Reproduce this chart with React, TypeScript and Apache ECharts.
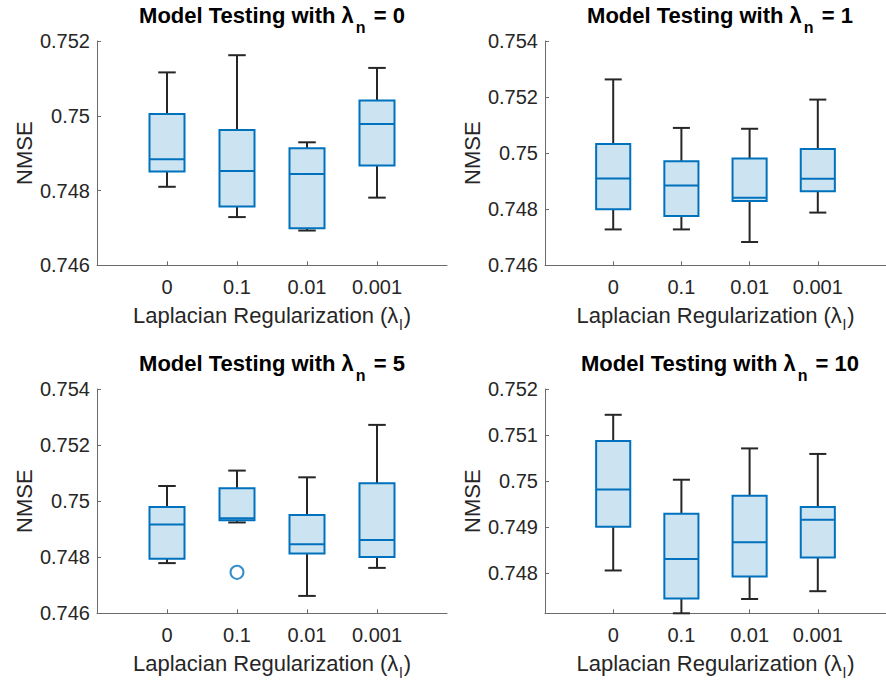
import React, { useEffect, useRef } from "react";
import * as echarts from "echarts";

// Category labels (Laplacian regularization λ_l)
const categories = ["0", "0.1", "0.01", "0.001"];
const categoryPositions = [1, 2, 3, 4];

// Box statistics per category: [lower whisker, Q1, median, Q3, upper whisker]
const boxesLambdaN0 = [
  [0.7481, 0.74851, 0.74884, 0.75005, 0.75116],
  [0.74729, 0.74757, 0.74852, 0.74962, 0.75162],
  [0.74693, 0.74699, 0.74844, 0.74913, 0.74929],
  [0.74781, 0.74867, 0.74978, 0.75041, 0.75128],
];
const boxesLambdaN1 = [
  [0.74728, 0.748, 0.7491, 0.75033, 0.75263],
  [0.74728, 0.74776, 0.74885, 0.74971, 0.7509],
  [0.74683, 0.74829, 0.74841, 0.74981, 0.75087],
  [0.74788, 0.74864, 0.74909, 0.75015, 0.75191],
];
const boxesLambdaN5 = [
  [0.74779, 0.74795, 0.74917, 0.74979, 0.75054],
  [0.74924, 0.74932, 0.74939, 0.75046, 0.75109],
  [0.74662, 0.74813, 0.74846, 0.74951, 0.75085],
  [0.74762, 0.74801, 0.74861, 0.75064, 0.75272],
];
const boxesLambdaN10 = [
  [0.74806, 0.74901, 0.74982, 0.75087, 0.75144],
  [0.74713, 0.74745, 0.74831, 0.74929, 0.75003],
  [0.74744, 0.74793, 0.74867, 0.74968, 0.75071],
  [0.74761, 0.74834, 0.74916, 0.74944, 0.75059],
];
// Outliers: [category position, value]
const outliersLambdaN5 = [[2, 0.74746]];

// Y-axis tick values
const yTicksA = [0.746, 0.748, 0.75, 0.752];
const yTicksB = [0.746, 0.748, 0.75, 0.752, 0.754];
const yTicksD = [0.748, 0.749, 0.75, 0.751, 0.752];

const panels = [
  { lambdaN: "0", boxes: boxesLambdaN0, outliers: [] as number[][], yMin: 0.746, yMax: 0.752, yTicks: yTicksA },
  { lambdaN: "1", boxes: boxesLambdaN1, outliers: [] as number[][], yMin: 0.746, yMax: 0.754, yTicks: yTicksB },
  { lambdaN: "5", boxes: boxesLambdaN5, outliers: outliersLambdaN5, yMin: 0.746, yMax: 0.754, yTicks: yTicksB },
  { lambdaN: "10", boxes: boxesLambdaN10, outliers: [] as number[][], yMin: 0.74713, yMax: 0.752, yTicks: yTicksD },
];

const FONT = "'Liberation Sans', Arial, Helvetica, sans-serif";
const TEXT = "#262626";
const AXIS = "#6b6b6b";
const BLUE = "#0072BD";
const FILL = "#cce3f2";
const WHISKER = "#262626";

const gridPos = [
  { left: 97, top: 41 },
  { left: 545, top: 41 },
  { left: 97, top: 389 },
  { left: 545, top: 389 },
];
const GW = 350;
const GH = 224.3;

export default function App() {
  const ref = useRef<HTMLDivElement>(null);
  useEffect(() => {
    document.body.style.margin = "0";
    const chart = echarts.init(ref.current!, null, { renderer: "svg" });
    const grid: any[] = [];
    const xAxis: any[] = [];
    const yAxis: any[] = [];
    const series: any[] = [];
    const graphic: any[] = [];

    panels.forEach((p, i) => {
      const g = gridPos[i];
      grid.push({ left: g.left, top: g.top, width: GW, height: GH, containLabel: false });
      xAxis.push({
        gridIndex: i,
        type: "value",
        min: 0,
        max: 5,
        axisLine: { show: true, lineStyle: { color: AXIS, width: 1 } },
        axisTick: { show: true, inside: true, length: 4, customValues: categoryPositions, lineStyle: { color: AXIS } },
        axisLabel: {
          show: true,
          customValues: categoryPositions,
          formatter: (v: number) => categories[Math.round(v) - 1] ?? "",
          color: TEXT,
          fontSize: 20,
          fontFamily: FONT,
          margin: 12,
        },
        splitLine: { show: false },
        name: "{t|Laplacian Regularization (λ}{s|l}{t|)}",
        nameLocation: "middle",
        nameGap: 37,
        nameTextStyle: {
          rich: {
            t: { fontSize: 22, fontFamily: FONT, color: TEXT, lineHeight: 26 },
            s: { fontSize: 15, fontFamily: FONT, color: TEXT, lineHeight: 26, padding: [18, 1, 0, 1] },
          },
        },
      });
      yAxis.push({
        gridIndex: i,
        type: "value",
        min: p.yMin,
        max: p.yMax,
        axisLine: { show: true, lineStyle: { color: AXIS, width: 1 } },
        axisTick: { show: true, inside: true, length: 4, customValues: p.yTicks, lineStyle: { color: AXIS } },
        axisLabel: {
          show: true,
          customValues: p.yTicks,
          formatter: (v: number) => String(parseFloat(v.toFixed(4))),
          color: TEXT,
          fontSize: 20,
          fontFamily: FONT,
          margin: 7,
        },
        splitLine: { show: false },
        name: "NMSE",
        nameLocation: "middle",
        nameGap: 62,
        nameTextStyle: { fontSize: 22, fontFamily: FONT, color: TEXT },
      });
      series.push({
        type: "custom",
        xAxisIndex: i,
        yAxisIndex: i,
        clip: false,
        encode: { x: 0, y: [1, 2, 3, 4, 5] },
        data: p.boxes.map((b, k) => [categoryPositions[k], ...b]),
        renderItem: (params: any, api: any) => {
          const x = api.value(0);
          const lo = api.coord([x, api.value(1)]);
          const q1 = api.coord([x, api.value(2)]);
          const md = api.coord([x, api.value(3)]);
          const q3 = api.coord([x, api.value(4)]);
          const hi = api.coord([x, api.value(5)]);
          const bw = api.size([0.5, 0])[0];
          const cw = api.size([0.25, 0])[0];
          const cx = lo[0];
          const wStyle = { stroke: WHISKER, lineWidth: 2 };
          return {
            type: "group",
            children: [
              { type: "line", shape: { x1: cx, y1: q3[1], x2: cx, y2: hi[1] }, style: wStyle },
              { type: "line", shape: { x1: cx - cw / 2, y1: hi[1], x2: cx + cw / 2, y2: hi[1] }, style: wStyle },
              { type: "line", shape: { x1: cx, y1: q1[1], x2: cx, y2: lo[1] }, style: wStyle },
              { type: "line", shape: { x1: cx - cw / 2, y1: lo[1], x2: cx + cw / 2, y2: lo[1] }, style: wStyle },
              {
                type: "rect",
                shape: { x: cx - bw / 2, y: q3[1], width: bw, height: q1[1] - q3[1] },
                style: { fill: FILL, stroke: BLUE, lineWidth: 2 },
              },
              { type: "line", shape: { x1: cx - bw / 2, y1: md[1], x2: cx + bw / 2, y2: md[1] }, style: { stroke: BLUE, lineWidth: 2 } },
            ],
          };
        },
      });
      if (p.outliers.length) {
        series.push({
          type: "scatter",
          xAxisIndex: i,
          yAxisIndex: i,
          symbol: "circle",
          symbolSize: 13,
          itemStyle: { color: "rgba(0,0,0,0)", borderColor: BLUE, borderWidth: 2 },
          data: p.outliers,
        });
      }
      graphic.push({
        type: "text",
        x: g.left + GW / 2,
        y: g.top - 39,
        style: {
          text: `{t|Model Testing with λ}{s|n}{t| = ${p.lambdaN}}`,
          align: "center",
          verticalAlign: "top",
          rich: {
            t: { fontSize: 22, fontWeight: "bold", fontFamily: FONT, fill: "#000", lineHeight: 26 },
            s: { fontSize: 16, fontWeight: "bold", fontFamily: FONT, fill: "#000", lineHeight: 26, padding: [24, 2, 0, 2] },
          },
        },
      });
    });

    chart.setOption({
      animation: false,
      backgroundColor: "#ffffff",
      grid,
      xAxis,
      yAxis,
      series,
      graphic,
    });
    return () => chart.dispose();
  }, []);
  return <div ref={ref} style={{ width: 886, height: 684, position: "absolute", left: 0, top: 0 }} />;
}
